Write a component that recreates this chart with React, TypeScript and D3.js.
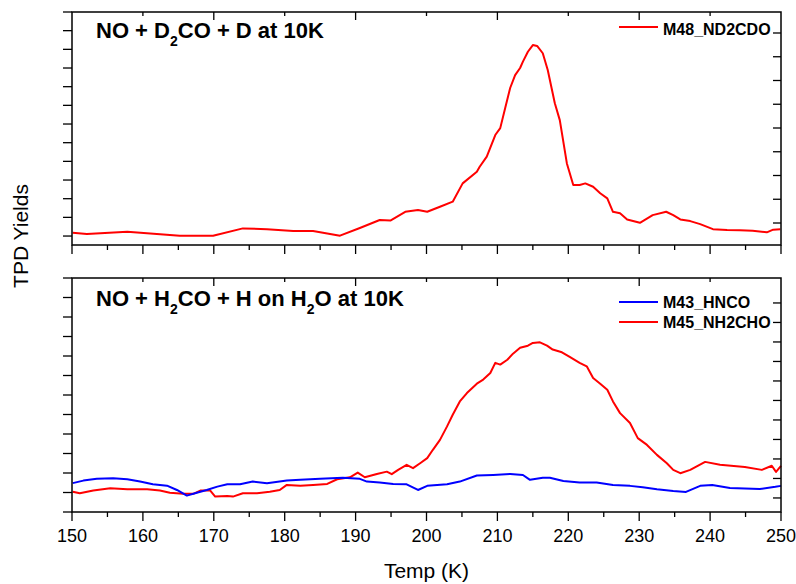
import React from 'react';
import * as d3 from 'd3';

// ---- Data ----
const topTemp = [150.1,152.1,157.8,165.2,169.9,174.1,177.5,181.2,184.0,187.8,190.6,193.4,194.9,197.0,198.8,200.1,201.9,203.7,205.1,207.1,207.5,208.5,209.7,210.4,211.1,211.8,212.5,213.2,213.6,214.3,215.0,215.6,216.4,217.1,218.1,218.8,219.8,220.7,221.6,222.4,223.5,224.5,225.5,226.3,227.3,228.3,230.1,231.9,233.8,234.8,235.8,237.2,238.6,240.4,242.4,244.2,246.0,248.0,248.9,249.9];
const topND2CDO = [0.18,0.11,0.23,0.02,0.02,0.41,0.37,0.27,0.27,0.02,0.43,0.86,0.83,1.30,1.39,1.30,1.57,1.84,2.82,3.44,3.71,4.25,5.41,5.78,6.86,7.93,8.62,9.00,9.34,9.87,10.23,10.18,9.79,8.89,7.11,6.21,3.89,2.73,2.73,2.82,2.64,2.29,2.02,1.30,1.22,0.89,0.71,1.12,1.30,1.12,0.89,0.80,0.64,0.37,0.32,0.31,0.28,0.20,0.34,0.37];

const nh2choTemp = [150.1,151.1,153.0,155.4,157.8,160.6,162.4,163.8,165.7,167.1,168.1,169.5,170.2,171.9,172.7,174.1,176.1,177.9,179.3,180.3,182.2,184.0,186.0,187.4,189.2,190.3,191.3,193.0,194.4,195.1,196.0,197.2,198.1,199.1,200.1,200.9,201.9,202.9,203.7,204.7,205.7,207.1,208.0,209.0,209.7,210.4,211.4,212.2,213.2,214.3,215.0,216.0,217.0,217.8,219.1,220.2,221.6,222.6,223.5,224.5,225.5,226.3,227.3,228.7,229.8,231.1,232.5,233.9,234.8,235.8,237.2,239.3,241.4,244.9,247.3,248.7,249.3,250.0];
const nh2cho = [1.04,0.96,1.10,1.22,1.17,1.17,1.10,0.99,0.93,0.93,1.10,1.10,0.79,0.82,0.79,0.96,0.96,1.04,1.13,1.39,1.34,1.39,1.44,1.68,1.78,2.02,1.78,1.95,2.07,1.94,2.16,2.42,2.25,2.50,2.76,3.19,3.70,4.39,4.99,5.67,6.10,6.58,6.79,7.13,7.65,7.56,7.81,8.12,8.42,8.53,8.67,8.70,8.53,8.33,8.19,7.95,7.65,7.47,6.87,6.58,6.27,5.67,5.07,4.56,3.79,3.44,2.93,2.50,2.16,1.99,2.16,2.57,2.42,2.31,2.16,2.37,2.06,2.37];

const hncoTemp = [150.1,151.6,153.5,155.8,157.8,159.6,161.4,163.4,164.8,166.2,167.6,169.0,170.5,171.9,173.7,175.5,177.5,180.3,182.2,185.0,188.2,190.6,191.6,193.4,195.3,197.2,198.8,200.1,202.9,204.7,207.1,209.4,211.8,213.6,214.6,216.4,217.4,219.3,221.6,224.0,226.3,228.7,230.5,232.5,234.8,236.6,238.6,240.3,242.8,247.0,249.2,250.0];
const hnco = [1.48,1.61,1.70,1.73,1.68,1.56,1.42,1.35,1.13,0.84,0.99,1.13,1.30,1.42,1.42,1.56,1.48,1.61,1.65,1.70,1.76,1.70,1.56,1.51,1.44,1.42,1.13,1.34,1.42,1.56,1.87,1.90,1.95,1.90,1.65,1.76,1.76,1.59,1.51,1.51,1.39,1.34,1.27,1.17,1.08,1.03,1.34,1.39,1.23,1.18,1.29,1.34];

const xTickValues = [150,160,170,180,190,200,210,220,230,240,250];
const xMinorValues = [155,165,175,185,195,205,215,225,235,245];
const xTopTickValues = [160,170,180,190,200,210,220,230,240];
const xTopLongValues = [170,190,210,230];
const yLeftTicks = [0,1,2,3,4,5,6,7,8,9,10,11,12];
const yRightTopTicks = [0,1,2,3,4,5,6,7,8];
const yRightBotTicks = [0,1,2,3,4,5,6,7,8,9,10];

const topTitle = ['NO + D', '2', 'CO + D at 10K'];
const botTitle = ['NO + H', '2', 'CO + H on H', '2', 'O at 10K'];
const seriesTop = [{ name: 'M48_ND2CDO', color: '#ff0000' }];
const seriesBot = [{ name: 'M43_HNCO', color: '#0000ff' }, { name: 'M45_NH2CHO', color: '#ff0000' }];

const W = 796, H = 584;
const L = 72, R = 781;
const T1 = 12, B1 = 245, T2 = 278, B2 = 512;
const FONT = "'Liberation Sans', Arial, Helvetica, sans-serif";

function Title({ parts, x, y }: { parts: string[]; x: number; y: number }) {
  return (
    <text x={x} y={y} fontFamily={FONT} fontWeight="bold" fontSize={22} fill="#000">
      {parts.map((p, i) =>
        i % 2 === 1 ? (
          <tspan key={i} fontSize={14} dy={8}>{p}</tspan>
        ) : (
          <tspan key={i} dy={i === 0 ? 0 : -8}>{p}</tspan>
        )
      )}
    </text>
  );
}

export default function App() {
  const x = d3.scaleLinear().domain([150, 250]).range([L, R]);
  const yTop = d3.scaleLinear().domain([-0.48, 12]).range([B1, T1]);
  const yBot = d3.scaleLinear().domain([0, 12]).range([B2, T2]);
  const yTopR = d3.scaleLinear().domain([-0.926, 8.884]).range([B1, T1]);
  const yBotR = d3.scaleLinear().domain([-0.72, 11.28]).range([B2, T2]);

  const lineTop = d3.line<number>().x((_, i) => x(topTemp[i])).y((d) => yTop(d));
  const lineNH = d3.line<number>().x((_, i) => x(nh2choTemp[i])).y((d) => yBot(d));
  const lineHN = d3.line<number>().x((_, i) => x(hncoTemp[i])).y((d) => yBot(d));

  const panelFrame = (top: number, bottom: number, yL: any, yR: any, rTicks: number[], key: string) => (
    <g key={key}>
      <rect x={L} y={top} width={R - L} height={bottom - top} fill="none" stroke="#000" strokeWidth={1.5} />
      {yLeftTicks.map((v) => (
        <line key={'l' + v} x1={L - 9} x2={L} y1={yL(v)} y2={yL(v)} stroke="#000" strokeWidth={1.3} />
      ))}
      {rTicks.map((v) => (
        <line key={'r' + v} x1={R - 8} x2={R} y1={yR(v)} y2={yR(v)} stroke="#000" strokeWidth={1.3} />
      ))}
      {xTickValues.map((v) => (
        <line key={'b' + v} x1={x(v)} x2={x(v)} y1={bottom} y2={bottom + 9} stroke="#000" strokeWidth={1.3} />
      ))}
      {xMinorValues.map((v) => (
        <line key={'bm' + v} x1={x(v)} x2={x(v)} y1={bottom} y2={bottom + 5} stroke="#000" strokeWidth={1.3} />
      ))}
      {xTopTickValues.map((v) => (
        <line key={'t' + v} x1={x(v)} x2={x(v)} y1={top} y2={top + (xTopLongValues.includes(v) ? 8 : 4)} stroke="#000" strokeWidth={1.3} />
      ))}
    </g>
  );

  return (
    <svg width={W} height={H} style={{ position: 'absolute', left: 0, top: 0, background: '#fff' }}>
      <rect x={0} y={0} width={W} height={H} fill="#fff" />
      {/* curves */}
      <path d={lineTop(topND2CDO) || ''} fill="none" stroke={seriesTop[0].color} strokeWidth={2} strokeLinejoin="round" />
      <path d={lineNH(nh2cho) || ''} fill="none" stroke={seriesBot[1].color} strokeWidth={2} strokeLinejoin="round" />
      <path d={lineHN(hnco) || ''} fill="none" stroke={seriesBot[0].color} strokeWidth={2} strokeLinejoin="round" />

      {panelFrame(T1, B1, yTop, yTopR, yRightTopTicks, 'p1')}
      {panelFrame(T2, B2, yBot, yBotR, yRightBotTicks, 'p2')}

      {/* x labels */}
      {xTickValues.map((v) => (
        <text key={'xl' + v} x={x(v)} y={542} textAnchor="middle" fontFamily={FONT} fontSize={18} fill="#000">{v}</text>
      ))}
      <text x={(L + R) / 2} y={578} textAnchor="middle" fontFamily={FONT} fontSize={21} fill="#000">Temp (K)</text>
      <text transform={`translate(28,${(T1 + B2) / 2 - 26}) rotate(-90)`} textAnchor="middle" fontFamily={FONT} fontSize={21} fill="#000">TPD Yields</text>

      <Title parts={topTitle} x={96} y={38} />
      <Title parts={botTitle} x={96} y={306} />

      {/* legends */}
      {seriesTop.map((s, i) => (
        <g key={s.name}>
          <line x1={619} x2={658} y1={27 + i * 20} y2={27 + i * 20} stroke={s.color} strokeWidth={2} />
          <text x={663} y={34.5 + i * 20} fontFamily={FONT} fontWeight="bold" fontSize={16} fill="#000">{s.name}</text>
        </g>
      ))}
      {seriesBot.map((s, i) => (
        <g key={s.name}>
          <line x1={619} x2={658} y1={302 + i * 20} y2={302 + i * 20} stroke={s.color} strokeWidth={2} />
          <text x={663} y={307.5 + i * 20} fontFamily={FONT} fontWeight="bold" fontSize={16} fill="#000">{s.name}</text>
        </g>
      ))}
    </svg>
  );
}
